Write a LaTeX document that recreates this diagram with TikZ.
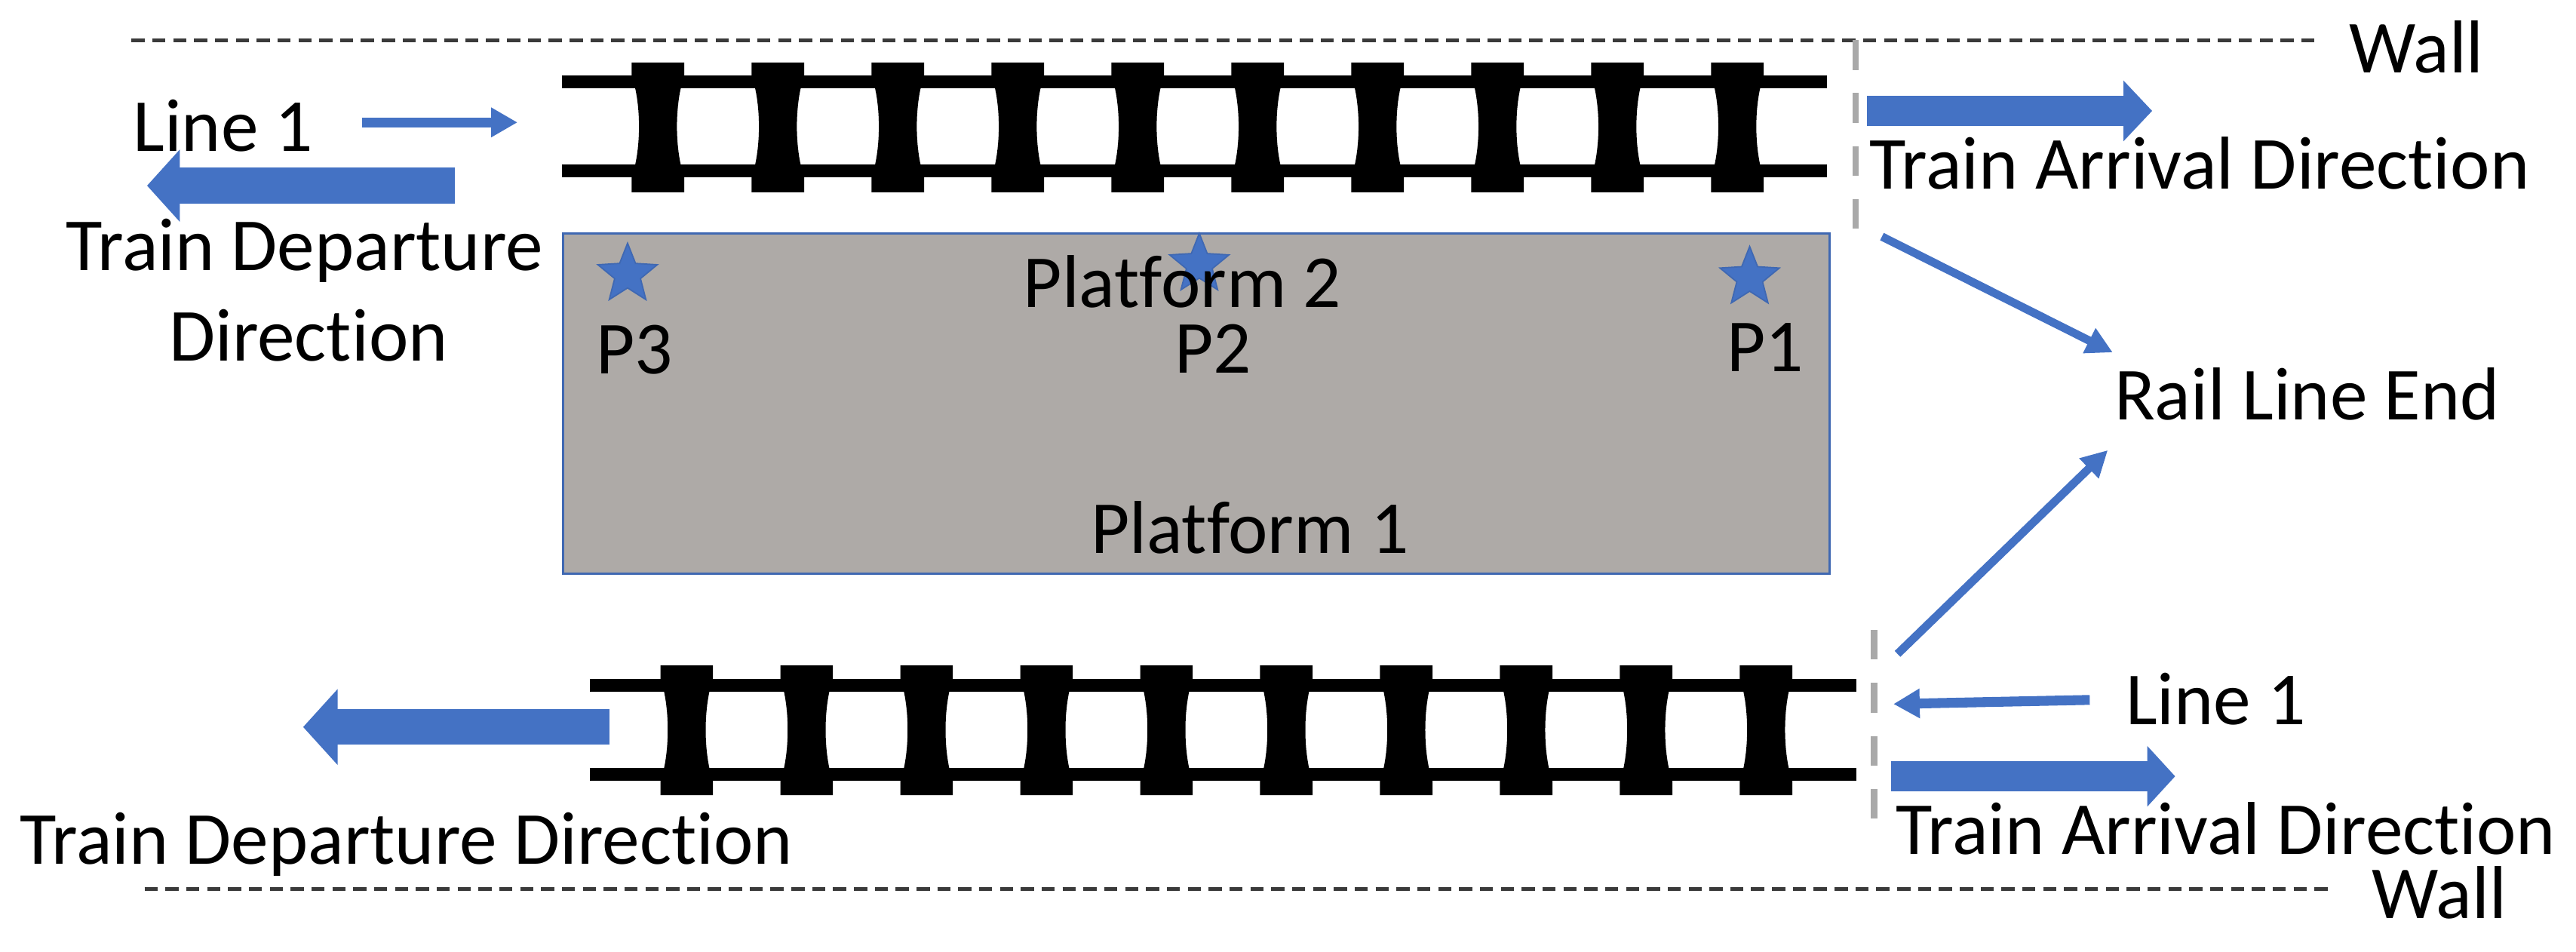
\documentclass[tikz,border=0pt]{standalone}
\usepackage{fontspec}
\setmainfont[Ligatures=NoCommon]{Carlito}
\usetikzlibrary{arrows.meta,shapes.geometric}
\definecolor{arrowblue}{HTML}{4472C4}
\definecolor{edgeblue}{HTML}{3F68B2}
\definecolor{platgray}{HTML}{AEAAA7}
\definecolor{walldash}{HTML}{3A3A3A}
\definecolor{endgray}{HTML}{A9A9A9}
\tikzset{
  label/.style={inner sep=0pt,outer sep=0pt,anchor=base west,font=\fontsize{45.6}{50}\selectfont,text=black},
  rail/.style={line width=7.8pt,draw=black},
  sleeper/.style={fill=black,draw=none},
  wallline/.style={draw=walldash,line width=2.2pt,dash pattern=on 8pt off 4.7pt},
  endline/.style={draw=endgray,line width=3.8pt,dash pattern=on 18pt off 14.2pt},
  bigarrow/.style n args={3}{draw=arrowblue,line width=#1pt,-{Triangle[length=#2pt,width=#3pt]}},
  smallarrow/.style={draw=arrowblue,line width=6pt,-{Triangle[length=16pt,width=17pt]}},
  thinarrow/.style={draw=arrowblue,line width=5pt,-{Triangle[length=16pt,width=16pt]}},
  plat/.style={draw=edgeblue,line width=1.5pt,fill=platgray,inner sep=0pt,minimum width=771pt,minimum height=207pt,anchor=north west},
  mark star/.style={star,star points=5,star point ratio=2.3,minimum size=38pt,inner sep=0pt,fill=arrowblue,draw=edgeblue,line width=.8pt},
}
% one sleeper: centre x, top y, upper rail y, lower rail y, bottom y
\newcommand{\sleeperat}[5]{%
  \fill[sleeper] (#1-16,#2) -- (#1+16,#2) -- (#1+16,#3) -- (#1+13.8,#3+4)
    .. controls (#1+10.8,#3+18) and (#1+10.8,#4-18) .. (#1+13.8,#4-4)
    -- (#1+16,#4) -- (#1+16,#5) -- (#1-16,#5) -- (#1-16,#4) -- (#1-13.8,#4-4)
    .. controls (#1-10.8,#4-18) and (#1-10.8,#3+18) .. (#1-13.8,#3+4) -- (#1-16,#3) -- cycle;}
\begin{document}
\begin{tikzpicture}[x=1pt,y=-1pt]
\useasboundingbox (0,0) rectangle (1568,579);
% platform
\node[plat] (platform) at (342,141.5) {};
% walls
\coordinate (wallTa) at (80,24.5); \coordinate (wallTb) at (1412,24.5);
\coordinate (wallBa) at (88,541); \coordinate (wallBb) at (1421,541);
\draw[wallline] (wallTa) -- (wallTb);
\draw[wallline] (wallBa) -- (wallBb);
% rail line ends
\coordinate (endTa) at (1129.6,24.5); \coordinate (endTb) at (1129.6,140);
\coordinate (endBa) at (1140.7,383.5); \coordinate (endBb) at (1140.7,498);
\draw[endline] (endTa) -- (endTb);
\draw[endline] (endBa) -- (endBb);
% top track
\foreach \tx in {400.5,473.5,...,1058} {\sleeperat{\tx}{38}{50}{104}{117}}
\coordinate (railTa) at (342,50); \coordinate (railTb) at (1112,50);
\coordinate (railTc) at (342,104); \coordinate (railTd) at (1112,104);
\draw[rail] (railTa) -- (railTb);
\draw[rail] (railTc) -- (railTd);
% bottom track
\foreach \tx in {418,491,...,1076} {\sleeperat{\tx}{405}{417}{471.5}{484}}
\coordinate (railBa) at (359,417); \coordinate (railBb) at (1130,417);
\coordinate (railBc) at (359,471.5); \coordinate (railBd) at (1130,471.5);
\draw[rail] (railBa) -- (railBb);
\draw[rail] (railBc) -- (railBd);
% stars
\node[mark star] (s3) at (382,167) {};
\node[mark star] (s2) at (730,161) {};
\node[mark star] (s1) at (1065,169) {};
% labels
\node[label] (line1t) at (81,92) {Line 1};
\node[label] (tdep1) at (40,164.5) {Train Departure};
\node[label] (tdep2) at (103,219.5) {Direction};
\node[label] (p3) at (363,227.6) {P3};
\node[label] (p2) at (715,227) {P2};
\node[label] (p1) at (1051,226) {P1};
\node[label] (plat2) at (623,187) {Platform 2};
\node[label] (plat1) at (664,337) {Platform 1};
\node[label] (arrT) at (1138,115) {Train Arrival Direction};
\node[label] (wallT) at (1430,44.5) {Wall};
\node[label] (lineend) at (1287,255.5) {Rail Line End};
\node[label] (line1b) at (1294,441) {Line 1};
\node[label] (arrB) at (1154,520) {Train Arrival Direction};
\node[label] (depB) at (12,526) {Train Departure Direction};
\node[label] (wallB) at (1444,559) {Wall};
% arrows
\coordinate (a1s) at (277,113); \coordinate (a1e) at (89.5,113);
\draw[bigarrow={22}{20}{43}] (a1s) -- (a1e);
\coordinate (a2s) at (220.5,74.5); \coordinate (a2e) at (315,74.5);
\draw[smallarrow] (a2s) -- (a2e);
\coordinate (a3s) at (1136.5,67.5); \coordinate (a3e) at (1310,67.5);
\draw[bigarrow={18.5}{17.5}{36}] (a3s) -- (a3e);
\coordinate (a4s) at (1151,472.5); \coordinate (a4e) at (1324,472.5);
\draw[bigarrow={18}{17}{36}] (a4s) -- (a4e);
\coordinate (a5s) at (371,442.5); \coordinate (a5e) at (184.5,442.5);
\draw[bigarrow={21.5}{21}{45}] (a5s) -- (a5e);
\coordinate (a6s) at (1272,426); \coordinate (a6e) at (1152.5,428.5);
\draw[smallarrow] (a6s) -- (a6e);
\coordinate (a7s) at (1145.5,144) ; \coordinate (a7e) at (1286,214.5);
\draw[thinarrow] (a7s) -- (a7e);
\coordinate (a8s) at (1155,398); \coordinate (a8e) at (1283,274);
\draw[thinarrow] (a8s) -- (a8e);
\end{tikzpicture}
\end{document}
